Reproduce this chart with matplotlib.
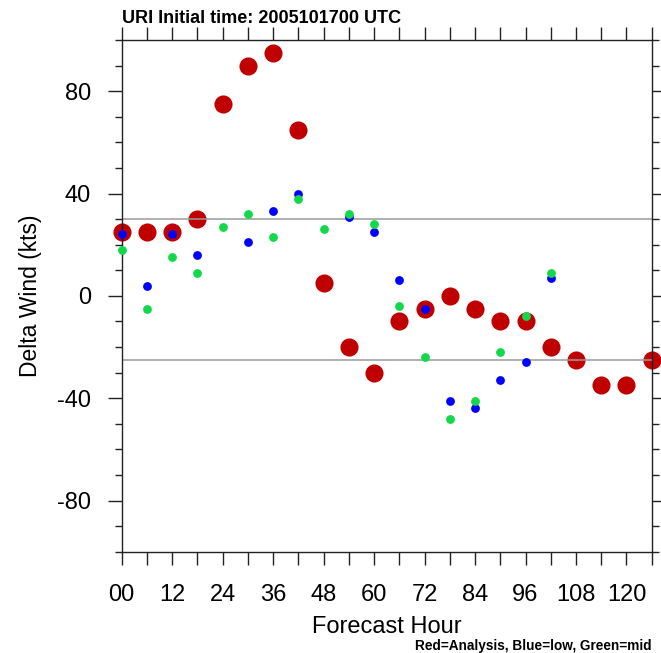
import matplotlib
matplotlib.use("Agg")
import matplotlib.pyplot as plt
from matplotlib.ticker import FixedLocator, MultipleLocator

plt.rcParams['font.family'] = ['Liberation Sans', 'DejaVu Sans']
plt.rcParams['axes.unicode_minus'] = False

# ---- data ----
hours = [0, 6, 12, 18, 24, 30, 36, 42, 48, 54, 60, 66, 72, 78, 84, 90, 96, 102, 108, 114, 120, 126]
red_analysis = [25, 25, 25, 30, 75, 90, 95, 65, 5, -20, -30, -10, -5, 0, -5, -10, -10, -20, -25, -35, -35, -25]
model_hours = [0, 6, 12, 18, 24, 30, 36, 42, 48, 54, 60, 66, 72, 78, 84, 90, 96, 102]
nan = float('nan')
blue_low = [24, 4, 24, 16, nan, 21, 33, 40, nan, 31, 25, 6, -5, -41, -44, -33, -26, 7]
green_mid = [18, -5, 15, 9, 27, 32, 23, 38, 26, 32, 28, -4, -24, -48, -41, -22, -8, 9]
ref_levels = [30, -25]
xtick_values = [0, 12, 24, 36, 48, 60, 72, 84, 96, 108, 120]
xtick_labels = ["00", "12", "24", "36", "48", "60", "72", "84", "96", "108", "120"]
ytick_values = [-80, -40, 0, 40, 80]
title = "URI Initial time: 2005101700 UTC"
xlabel = "Forecast Hour"
ylabel = "Delta Wind (kts)"
footer = "Red=Analysis, Blue=low, Green=mid"

W, H = 661, 653
fig = plt.figure(figsize=(W / 100, H / 100), dpi=100)
L, R, T, B = 121.7, 651.7, 40.0, 551.7
ax = fig.add_axes([L / W, 1 - B / H, (R - L) / W, (B - T) / H])

ax.set_xlim(0, 126)
ax.set_ylim(-100, 100)

ax.scatter(hours, red_analysis, s=170, color='#C00000', linewidths=0, zorder=1.5, clip_on=False)
for lv in ref_levels:
    ax.axhline(lv, color='#9a9a9a', lw=1.1, zorder=2)
ax.scatter(model_hours, blue_low, s=40, color='#0000FF', linewidths=0, zorder=3, clip_on=False)
ax.scatter(model_hours, green_mid, s=40, color='#12D84C', linewidths=0, zorder=3.2, clip_on=False)

for sp in ax.spines.values():
    sp.set_color('#222222')
    sp.set_linewidth(1.0)

ax.xaxis.set_major_locator(FixedLocator(xtick_values))
ax.set_xticklabels(xtick_labels)
ax.xaxis.set_minor_locator(MultipleLocator(6))
ax.yaxis.set_major_locator(FixedLocator(ytick_values))
ax.yaxis.set_minor_locator(MultipleLocator(10))

ax.tick_params(axis='x', which='both', direction='out', length=9.4, width=1.0, color='#222222',
               top=True, bottom=True, labelsize=17, pad=14)
ax.tick_params(axis='y', which='major', direction='out', length=10, width=1.0, color='#222222',
               left=True, right=True, labelsize=17, pad=12)
ax.tick_params(axis='y', which='minor', direction='out', length=5, width=1.0, color='#222222',
               left=True, right=True)

fig.text(L / W, 1 - 23.2 / H, title, ha='left', va='baseline', fontsize=13, fontweight='bold')
fig.text((L + R) / 2 / W, 1 - 633.3 / H, xlabel, ha='center', va='baseline', fontsize=17)
fig.text(31 / W, 1 - 296 / H, ylabel, ha='center', va='center', rotation=90, fontsize=16.5)
fig.text(R / W, 1 - 650 / H, footer, ha='right', va='baseline', fontsize=9.8, fontweight='bold')

fig.savefig('out.png', dpi=100)
